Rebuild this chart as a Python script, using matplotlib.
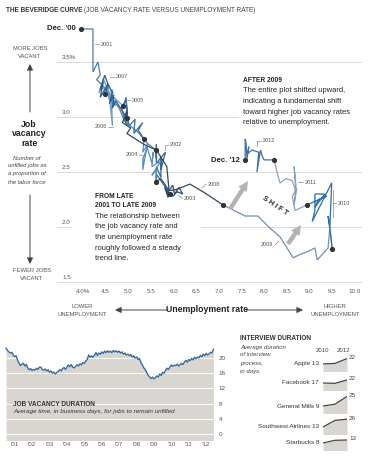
import matplotlib
matplotlib.use("Agg")
import matplotlib.pyplot as plt
from matplotlib.patches import Rectangle, FancyArrowPatch
from matplotlib.lines import Line2D

plt.rcParams['font.family'] = ['Liberation Sans', 'DejaVu Sans']

W, H, DPI = 368, 459, 100

# ---------------- data ----------------
years = [2001, 2002, 2003, 2004, 2005, 2006, 2007, 2008, 2009, 2010, 2011, 2012]

# monthly, Dec 2000 .. Dec 2012
unemployment = [
    3.96,
    4.22, 4.22, 4.33, 4.38, 4.30, 4.45, 4.55, 4.80, 4.92, 5.22, 5.42, 5.61,
    5.62, 5.62, 5.62, 5.82, 5.72, 5.72, 5.72, 5.62, 5.62, 5.62, 5.82, 5.92,
    5.80, 5.88, 5.85, 5.98, 6.08, 6.20, 6.12, 6.02, 5.98, 5.90, 5.72, 5.61,
    5.62, 5.52, 5.72, 5.52, 5.55, 5.52, 5.42, 5.32, 5.32, 5.42, 5.32, 5.35,
    5.22, 5.32, 5.12, 5.15, 5.02, 4.95, 4.97, 4.85, 4.95, 4.98, 4.95, 4.89,
    4.62, 4.72, 4.62, 4.65, 4.55, 4.58, 4.65, 4.68, 4.45, 4.35, 4.45, 4.49,
    4.55, 4.48, 4.38, 4.45, 4.38, 4.55, 4.65, 4.58, 4.68, 4.65, 4.72, 4.97,
    4.97, 4.87, 5.05, 4.97, 5.35, 5.62, 5.85, 5.90, 6.05, 6.36, 6.69, 7.09,
    7.58, 7.86, 8.10, 8.35, 8.64, 8.79, 8.98, 9.12, 9.17, 9.41, 9.45, 9.50,
    9.47, 9.41, 9.45, 9.49, 9.06, 9.12, 9.12, 9.34, 9.12, 9.20, 9.38, 8.94,
    8.68, 8.62, 8.72, 8.66, 8.70, 8.66, 8.70, 8.62, 8.48, 8.35, 8.30, 8.22,
    8.00, 7.96, 7.92, 7.84, 7.88, 7.73, 7.64, 7.66, 7.62, 7.60, 7.58, 7.58,
]
vacancy = [
    3.80,
    3.80, 3.41, 3.50, 3.38, 3.34, 3.28, 3.22, 3.08, 2.96, 2.86, 2.76, 2.70,
    2.62, 2.75, 2.58, 2.68, 2.52, 2.64, 2.45, 2.55, 2.40, 2.48, 2.36, 2.30,
    2.36, 2.27, 2.33, 2.28, 2.32, 2.30, 2.36, 2.30, 2.38, 2.33, 2.44, 2.41,
    2.52, 2.47, 2.60, 2.55, 2.68, 2.58, 2.72, 2.62, 2.52, 2.75, 2.68, 2.80,
    2.88, 2.95, 2.85, 2.98, 2.92, 3.05, 2.92, 3.08, 3.15, 3.02, 3.18, 3.10,
    3.20, 3.10, 3.25, 2.92, 3.30, 3.15, 3.25, 3.10, 3.35, 3.22, 3.28, 3.21,
    3.30, 3.38, 3.25, 3.32, 3.18, 3.30, 3.22, 3.12, 3.20, 3.08, 3.15, 2.99,
    3.05, 2.95, 2.90, 2.85, 2.75, 2.70, 2.55, 2.33, 2.34, 2.39, 2.31, 2.20,
    2.10, 2.10, 2.00, 1.91, 1.72, 1.75, 1.78, 1.81, 1.70, 1.81, 2.00, 1.80,
    1.92, 2.10, 2.00, 2.40, 2.05, 2.15, 2.30, 2.30, 2.18, 2.25, 2.28, 2.20,
    2.15, 2.28, 2.35, 2.20, 2.38, 2.55, 2.32, 2.42, 2.44, 2.40, 2.47, 2.61,
    2.61, 2.64, 2.70, 2.50, 2.68, 2.70, 2.67, 2.73, 2.62, 2.76, 2.80, 2.61,
]
year_colors = ['#4f7eab', '#3a6690', '#2e4e6e', '#5b8fc4', '#3f6f9e', '#6a9ccc',
               '#2f5f8f', '#34495e', '#7390ad', '#2e6ea6', '#8aa2bd', '#3f72a0']

x_ticks = [4.0, 4.5, 5.0, 5.5, 6.0, 6.5, 7.0, 7.5, 8.0, 8.5, 9.0, 9.5, 10.0]
x_tick_labels = ['4.0%', '4.5', '5.0', '5.5', '6.0', '6.5', '7.0', '7.5',
                 '8.0', '8.5', '9.0', '9.5', '10.0']
y_ticks = [1.5, 2.0, 2.5, 3.0, 3.5]
y_tick_labels = ['1.5', '2.0', '2.5', '3.0', '3.5%']

# job vacancy duration, monthly Jan 2001 .. Dec 2012 (business days)
vacancy_duration = [
    22.6, 22.0, 21.6, 21.3, 21.5, 20.8, 20.4, 20.6, 19.4, 18.6, 18.0, 18.4,
    18.6, 17.9, 18.3, 17.4, 16.9, 17.2, 16.7, 17.0, 16.8, 17.3, 17.0, 17.6,
    17.6, 17.0, 16.8, 17.1, 16.6, 16.9, 16.3, 16.6, 16.0, 16.3, 15.8, 16.2,
    16.5, 16.9, 16.6, 17.2, 17.5, 17.0, 17.6, 18.2, 17.7, 18.3, 17.6, 17.4,
    17.8, 18.2, 17.9, 18.5, 18.2, 18.8, 18.6, 19.2, 19.6, 20.8, 20.2, 20.6,
    20.2, 20.8, 21.4, 20.7, 21.3, 21.0, 21.6, 21.2, 21.8, 21.4, 21.9, 21.5,
    21.8, 21.4, 22.0, 21.6, 21.9, 21.5, 21.8, 21.3, 21.6, 21.0, 21.3, 20.8,
    21.0, 20.6, 20.9, 20.3, 20.6, 20.0, 20.3, 19.6, 19.9, 18.8, 18.2, 17.4,
    17.0, 16.2, 15.5, 15.0, 14.6, 15.0, 14.5, 14.8, 15.3, 15.0, 15.8, 15.4,
    16.2, 16.0, 16.8, 17.3, 17.0, 17.6, 18.2, 17.8, 18.1, 18.0, 18.4, 17.9,
    18.2, 18.6, 18.3, 18.9, 19.4, 18.9, 19.6, 19.3, 19.9, 19.5, 20.2, 19.8,
    20.3, 20.0, 20.7, 20.3, 21.0, 20.6, 21.2, 20.8, 21.1, 21.5, 21.3, 22.3,
]
duration_year_labels = ["'01", "'02", "'03", "'04", "'05", "'06", "'07", "'08",
                        "'09", "'10", "'11", "'12"]
duration_y_ticks = [0, 4, 8, 12, 16, 20]

companies = ['Apple', 'Facebook', 'General Mills', 'Southwest Airlines', 'Starbucks']
interview_years = [2010, 2011, 2012]
interview_2010 = [13, 17, 9, 13, 8]
interview_2011 = [14, 16.5, 12, 24, 12.5]
interview_2012 = [22, 22, 25, 26, 13]

# ---------------- helpers (pixel layout) ----------------
fig = plt.figure(figsize=(W / DPI, H / DPI), dpi=DPI)
fig.patch.set_facecolor('white')


def fx(x):
    return x / W


def fy(y):
    return 1 - y / H


def T(x, y, s, size=5.4, color='#222222', ha='left', va='center', **kw):
    return fig.text(fx(x), fy(y), s, fontsize=size, color=color, ha=ha, va=va, **kw)


def L(xs, ys, color='#888888', lw=0.5):
    fig.add_artist(Line2D([fx(x) for x in xs], [fy(y) for y in ys], color=color, lw=lw))


def ARROW(x0, y0, x1, y1, color='#444444', lw=0.7,
          style='-|>,head_length=0.45,head_width=0.22', ms=8):
    fig.add_artist(FancyArrowPatch((fx(x0), fy(y0)), (fx(x1), fy(y1)),
                                   transform=fig.transFigure, arrowstyle=style,
                                   mutation_scale=ms, color=color, lw=lw,
                                   shrinkA=0, shrinkB=0))


# ---------------- title ----------------
t1 = T(6, 10, 'THE BEVERIDGE CURVE', size=4.7, color='#333333', weight='bold')
fig.canvas.draw()
bb = t1.get_window_extent()
fig.text(bb.x1 / W + 0.003, fy(10), '(JOB VACANCY RATE VERSUS UNEMPLOYMENT RATE)',
         fontsize=4.7, color='#444444', ha='left', va='center')

# ---------------- main Beveridge chart ----------------
ax = fig.add_axes([fx(57), fy(285), (362 - 57) / W, (285 - 20) / H])
ax.set_xlim(3.426, 10.159)
ax.set_ylim(1.4727, 3.8818)
ax.patch.set_alpha(0)
for s in ax.spines.values():
    s.set_visible(False)
ax.set_yticks([])
ax.set_xticks(x_ticks, x_tick_labels)
ax.tick_params(axis='x', length=0, pad=3, labelsize=4.5, labelcolor='#555555')

for v, lab in zip(y_ticks, y_tick_labels):
    ax.axhline(v, color='#d4d4d4', lw=0.6, zorder=1)
    ax.annotate(lab, xy=(0.0164, v), xycoords=('axes fraction', 'data'),
                xytext=(0, 1.2), textcoords='offset points', fontsize=4.5,
                color='#555555', ha='left', va='bottom')

# white boxes behind the text blocks
fig.add_artist(Rectangle((fx(239), fy(129)), (363 - 239) / W, (129 - 72) / H,
                         transform=fig.transFigure, facecolor='white',
                         edgecolor='none', zorder=1.5))
fig.add_artist(Rectangle((fx(72), fy(265)), (201 - 72) / W, (265 - 200) / H,
                         transform=fig.transFigure, facecolor='white',
                         edgecolor='none', zorder=1.5))

for i, yr in enumerate(years):
    ax.plot(unemployment[12 * i:12 * i + 13], vacancy[12 * i:12 * i + 13],
            color=year_colors[i], lw=0.9, solid_joinstyle='miter', zorder=3)
dec_idx = list(range(0, len(unemployment), 12))
ax.plot([unemployment[k] for k in dec_idx], [vacancy[k] for k in dec_idx], 'o',
        ms=2.7, color='#333333', zorder=4)

# year labels
yl = dict(size=4.0, color='#555555')
T(101, 44, '2001', **yl); L([95, 99], [44, 44])
T(116, 77, '2007', **yl); L([110, 114], [77, 77])
T(132, 100, '2005', **yl); L([127, 130], [100, 100])
T(107, 127, '2006', ha='right', **yl); L([108, 113], [127, 127])
T(138, 155, '2004', ha='right', **yl); L([139, 143, 143], [155, 155, 162])
T(170, 145, '2002', **yl); L([168, 165, 165], [145, 145, 150])
T(184, 198, '2003', **yl); L([182, 178], [198, 195])
T(208, 184, '2008', **yl); L([206, 202], [184, 188])
T(263, 141, '2012', **yl); L([261, 257, 257], [141, 141, 146])
T(305, 182, '2011', **yl); L([303, 298], [182, 182])
T(338, 203, '2010', **yl); L([333, 336], [203, 203]); L([333, 333], [190, 217])
T(273, 245, '2009', ha='right', **yl); L([275, 279], [245, 241])

T(76, 29, "Dec. '00", size=5.6, weight='bold', ha='right')
T(240, 161, "Dec. '12", size=5.6, weight='bold', ha='right')

# shift arrows and label
ARROW(230, 209, 248, 181, color='#b3b3b3', lw=0,
      style='simple,head_length=0.9,head_width=0.9,tail_width=0.4', ms=8)
ARROW(288, 244, 301, 225, color='#b3b3b3', lw=0,
      style='simple,head_length=0.9,head_width=0.9,tail_width=0.4', ms=8)
T(275, 206, 'S H I F T', size=5.2, weight='bold', ha='center', rotation=-34,
  rotation_mode='anchor', color='#222222')

# text blocks
T(243, 80, 'AFTER 2009', size=4.8, weight='bold')
for k, line in enumerate(['The entire plot shifted upward,',
                          'indicating a fundamental shift',
                          'toward higher job vacancy rates',
                          'relative to unemployment.']):
    T(243, 90.5 + 10.8 * k, line, size=5.4)

T(95, 196, 'FROM LATE', size=4.8, weight='bold')
T(95, 205.5, '2001 TO LATE 2009', size=4.8, weight='bold')
for k, line in enumerate(['The relationship between',
                          'the job vacancy rate and',
                          'the unemployment rate',
                          'roughly followed a steady',
                          'trend line.']):
    T(95, 216 + 10.7 * k, line, size=5.4)

# left axis labels
gl = dict(size=4.2, color='#555555', ha='center')
T(30, 49, 'MORE JOBS', **gl)
T(30, 57, 'VACANT', **gl)
ARROW(30, 112, 30, 64)
T(29, 124, 'Job', size=6.3, weight='bold', ha='center')
T(29, 134, 'vacancy', size=6.3, weight='bold', ha='center')
T(29, 144, 'rate', size=6.3, weight='bold', ha='center')
for k, line in enumerate(['Number of', 'unfilled jobs as', 'a proportion of',
                          'the labor force']):
    T(27, 158 + 8 * k, line, size=4.2, style='italic', color='#444444', ha='center')
ARROW(30, 195, 30, 264)
T(32, 271, 'FEWER JOBS', **gl)
T(32, 278, 'VACANT', **gl)

# bottom axis labels
T(82, 307, 'LOWER', **gl)
T(82, 314, 'UNEMPLOYMENT', **gl)
ARROW(168, 310, 115, 310)
T(207, 310, 'Unemployment rate', size=6.3, weight='bold', ha='center')
ARROW(246, 310, 303, 310)
T(335, 307, 'HIGHER', **gl)
T(335, 314, 'UNEMPLOYMENT', **gl)

# ---------------- job vacancy duration ----------------
ax2 = fig.add_axes([fx(5), fy(440), (215 - 5) / W, (440 - 340) / H])
months = list(range(len(vacancy_duration)))
ax2.set_xlim(-0.7, 144.1)
ax2.set_ylim(-1.58, 24.74)
ax2.fill_between(months, vacancy_duration, -5, color='#d9d6d1', lw=0, zorder=1)
for t in duration_y_ticks:
    ax2.axhline(t, color='white', lw=0.6, zorder=1.5)
ax2.plot(months, vacancy_duration, color='#3a6b9c', lw=1.0, zorder=3)
for s in ax2.spines.values():
    s.set_visible(False)
ax2.yaxis.tick_right()
ax2.set_yticks(duration_y_ticks, [str(t) for t in duration_y_ticks])
ax2.set_xticks([6 + 12 * k for k in range(len(duration_year_labels))], duration_year_labels)
ax2.tick_params(length=0, labelsize=4.5, labelcolor='#555555')
ax2.tick_params(axis='y', pad=2.5)
ax2.tick_params(axis='x', pad=1.8)
T(13, 404, 'JOB VACANCY DURATION', size=4.7, weight='bold', color='#333333')
T(13, 412, 'Average time, in business days, for jobs to remain unfilled', size=4.6,
  style='italic', color='#333333')

# ---------------- interview duration ----------------
T(240, 339, 'INTERVIEW DURATION', size=4.7, weight='bold', color='#333333')
for k, line in enumerate(['Average duration', 'of interview', 'process,', 'in days.']):
    T(240, 347 + 8 * k, line, size=4.3, style='italic', color='#444444')
T(322, 350, '2010', size=4.3, color='#444444', ha='center')
T(343, 350, '2012', size=4.3, color='#444444', ha='center')

row_y = [364, 383, 406, 427, 443]
scale = 0.6  # px per day
for name, ry, a, b, c in zip(companies, row_y, interview_2010, interview_2011, interview_2012):
    top, bot = ry - 12, ry + 7
    axs = fig.add_axes([fx(323), fy(bot), (347 - 323) / W, (bot - top) / H])
    axs.set_xlim(2010, 2012)
    axs.set_ylim(a - (bot - ry) / scale, a + (ry - top) / scale)
    vals = [a, b, c]
    axs.fill_between(interview_years, vals, a - 100, color='#d9d6d1', lw=0)
    axs.plot(interview_years, vals, color='#444444', lw=0.9)
    axs.axis('off')
    axs.annotate(str(c), xy=(2012, c), xytext=(1.5, 0.8), textcoords='offset points',
                 fontsize=4.5, color='#444444', ha='left', va='center',
                 annotation_clip=False)
    T(319, ry, f'{name} {a}', size=4.6, color='#333333', ha='right')

fig.savefig('out.png', dpi=DPI)
